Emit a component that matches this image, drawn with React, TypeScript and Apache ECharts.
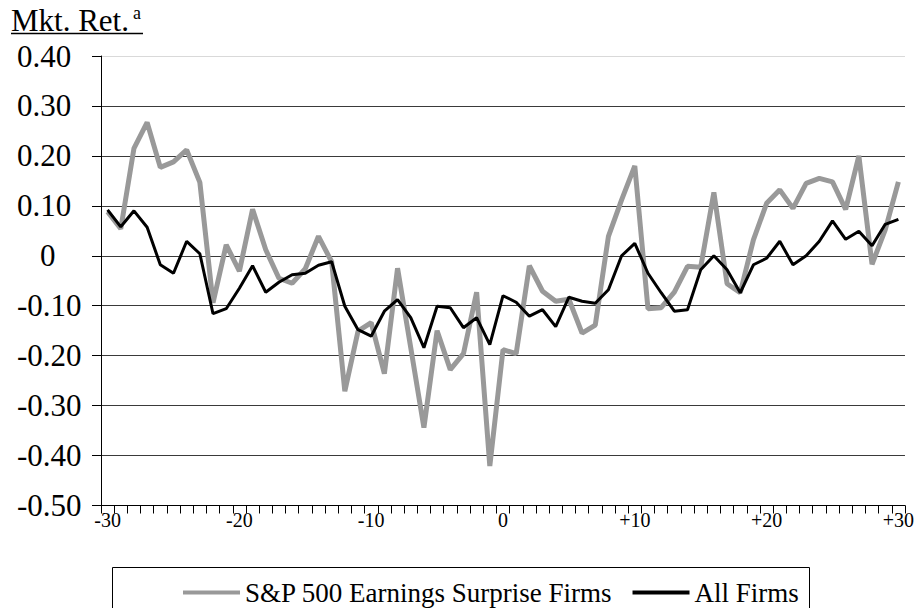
import React, { useEffect, useRef } from "react";
import * as echarts from "echarts";

const days: string[] = [
  "-30", "-29", "-28", "-27", "-26", "-25", "-24", "-23", "-22", "-21",
  "-20", "-19", "-18", "-17", "-16", "-15", "-14", "-13", "-12", "-11",
  "-10", "-9", "-8", "-7", "-6", "-5", "-4", "-3", "-2", "-1",
  "0", "+1", "+2", "+3", "+4", "+5", "+6", "+7", "+8", "+9",
  "+10", "+11", "+12", "+13", "+14", "+15", "+16", "+17", "+18", "+19",
  "+20", "+21", "+22", "+23", "+24", "+25", "+26", "+27", "+28", "+29",
  "+30",
];

const xTickLabels: string[] = ["-30", "-20", "-10", "0", "+10", "+20", "+30"];

const yTickLabels: string[] = [
  "-0.50", "-0.40", "-0.30", "-0.20", "-0.10", "0", "0.10", "0.20", "0.30", "0.40",
];

const spSurprise: number[] = [
  0.088, 0.054, 0.215, 0.267, 0.177, 0.188, 0.212, 0.147, -0.094, 0.022,
  -0.031, 0.093, 0.012, -0.045, -0.055, -0.026, 0.039, -0.012, -0.271, -0.151,
  -0.134, -0.236, -0.025, -0.184, -0.344, -0.15, -0.228, -0.196, -0.073, -0.421,
  -0.188, -0.196, -0.02, -0.071, -0.091, -0.087, -0.155, -0.139, 0.039, 0.112,
  0.18, -0.106, -0.104, -0.073, -0.021, -0.023, 0.127, -0.056, -0.074, 0.032,
  0.105, 0.132, 0.095, 0.145, 0.155, 0.148, 0.093, 0.2, -0.017, 0.052,
  0.148,
];

const allFirms: number[] = [
  0.092, 0.058, 0.09, 0.057, -0.018, -0.035, 0.029, 0.004, -0.116, -0.106,
  -0.065, -0.02, -0.073, -0.053, -0.038, -0.035, -0.019, -0.012, -0.101, -0.148,
  -0.161, -0.111, -0.088, -0.124, -0.184, -0.101, -0.104, -0.144, -0.124, -0.178,
  -0.08, -0.093, -0.121, -0.108, -0.142, -0.083, -0.091, -0.095, -0.068, 0.0,
  0.025, -0.035, -0.074, -0.111, -0.108, -0.028, 0.0, -0.028, -0.074, -0.018,
  -0.005, 0.029, -0.018, 0.0, 0.029, 0.07, 0.033, 0.049, 0.02, 0.063,
  0.073,
];

const seriesNames: string[] = ["S&P 500 Earnings Surprise Firms", "All Firms"];
const titleText = "Mkt. Ret.";
const titleSup = "a";

const FONT = '"Liberation Serif", "Times New Roman", serif';

export default function App() {
  const ref = useRef<HTMLDivElement>(null);

  useEffect(() => {
    if (!ref.current) return;
    const chart = echarts.init(ref.current, undefined, { renderer: "svg" });

    const yLabelFor = (v: number): string => {
      const idx = Math.round((v + 0.5) / 0.1);
      return yTickLabels[idx] ?? "";
    };

    chart.setOption({
      animation: false,
      backgroundColor: "#ffffff",
      textStyle: { fontFamily: FONT, color: "#000" },
      grid: { left: 101, right: 8, top: 56, bottom: 102.5, containLabel: false },
      graphic: [
        {
          type: "text",
          left: 11,
          top: 5,
          style: { text: titleText, font: `31px ${FONT}`, fill: "#000" },
        },
        {
          type: "text",
          left: 133,
          top: 4,
          style: { text: titleSup, font: `18px ${FONT}`, fill: "#000" },
        },
        {
          type: "line",
          shape: { x1: 11, y1: 33.5, x2: 143, y2: 33.5 },
          style: { stroke: "#000", lineWidth: 1.5 },
        },
        {
          type: "rect",
          shape: { x: 112.5, y: 567.5, width: 697, height: 60 },
          style: { fill: "none", stroke: "#000", lineWidth: 1 },
        },
      ],
      legend: {
        left: 183,
        top: 579,
        itemWidth: 57,
        itemHeight: 4,
        itemGap: 20,
        padding: 0,
        icon: "rect",
        textStyle: { fontFamily: FONT, fontSize: 27, color: "#000" },
        data: [
          { name: seriesNames[0], icon: "rect", itemStyle: { color: "#999999" } },
          { name: seriesNames[1], icon: "rect", itemStyle: { color: "#000000" } },
        ],
      },
      xAxis: {
        type: "category",
        data: days,
        boundaryGap: true,
        axisLine: { show: true, onZero: false, lineStyle: { color: "#000", width: 1 } },
        axisTick: { show: true, interval: 0, length: 8, inside: false, lineStyle: { color: "#000" } },
        axisLabel: {
          interval: 0,
          margin: 4,
          fontFamily: FONT,
          fontSize: 20,
          color: "#000",
          formatter: (v: string) => (xTickLabels.includes(v) ? v : ""),
        },
        splitLine: { show: false },
      },
      yAxis: {
        type: "value",
        min: -0.5,
        max: 0.4,
        interval: 0.1,
        axisLine: { show: true, lineStyle: { color: "#000", width: 1 } },
        axisTick: { show: true, length: 9, inside: false, lineStyle: { color: "#000" } },
        axisLabel: {
          margin: 84,
          align: "left",
          fontFamily: FONT,
          fontSize: 31,
          color: "#000",
          formatter: (v: number) => {
            const s = yLabelFor(v);
            return s === "0" ? "{z|0}" : s;
          },
          rich: {
            z: { fontFamily: FONT, fontSize: 31, color: "#000", padding: [0, 0, 0, 23] },
          },
        },
        splitLine: {
          show: true,
          lineStyle: {
            color: [
              "#3a3a3a", "#3a3a3a", "#3a3a3a", "#3a3a3a", "#3a3a3a",
              "#3a3a3a", "#3a3a3a", "#3a3a3a", "#3a3a3a", "#d9d9d9",
            ],
            width: 1,
          },
        },
      },
      series: [
        {
          name: seriesNames[0],
          type: "line",
          data: spSurprise,
          symbol: "none",
          showSymbol: false,
          lineStyle: { color: "#999999", width: 5 },
          itemStyle: { color: "#999999" },
          z: 2,
        },
        {
          name: seriesNames[1],
          type: "line",
          data: allFirms,
          symbol: "none",
          showSymbol: false,
          lineStyle: { color: "#000000", width: 3 },
          itemStyle: { color: "#000000" },
          z: 3,
        },
      ],
    });

    return () => chart.dispose();
  }, []);

  return (
    <div
      ref={ref}
      style={{ position: "fixed", left: 0, top: 0, width: 917, height: 608, background: "#fff" }}
    />
  );
}
